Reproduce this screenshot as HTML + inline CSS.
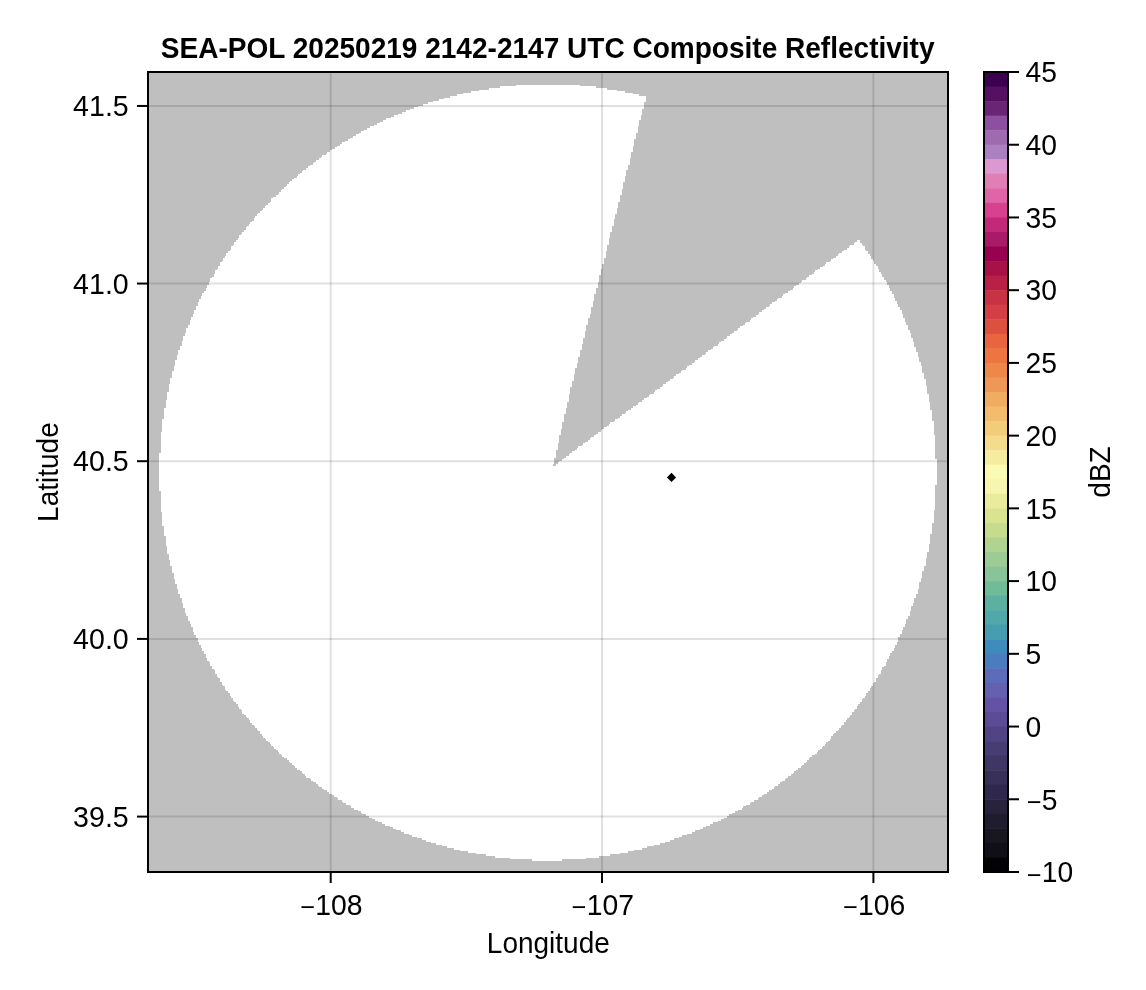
<!DOCTYPE html>
<html lang="en"><head><meta charset="utf-8"><title>SEA-POL Composite Reflectivity</title>
<style>html,body{margin:0;padding:0;background:#fff;}body{width:1146px;height:990px;overflow:hidden;}svg{display:block;}text{font-family:"Liberation Sans",sans-serif;fill:#000;}</style></head><body>
<svg width="1146" height="990" viewBox="0 0 1146 990">
<rect x="0" y="0" width="1146" height="990" fill="#ffffff"/>
<rect x="148" y="72" width="800" height="800" fill="#bfbfbf"/>
<path d="M516 84.8H580V86.4H516ZM500 86.4H596V88H500ZM488.8 88H607.2V89.6H488.8ZM479.2 89.6H616.8V91.2H479.2ZM471.2 91.2H624.8V92.8H471.2ZM463.2 92.8H632.8V94.4H463.2ZM456.8 94.4H639.2V96H456.8ZM450.4 96H645.6V97.6H450.4ZM444 97.6H645.6V99.2H444ZM439.2 99.2H645.6V100.8H439.2ZM432.8 100.8H645.6V102.4H432.8ZM428 102.4H644V104H428ZM423.2 104H644V105.6H423.2ZM418.4 105.6H644V107.2H418.4ZM413.6 107.2H644V108.8H413.6ZM410.4 108.8H642.4V110.4H410.4ZM405.6 110.4H642.4V112H405.6ZM402.4 112H642.4V113.6H402.4ZM397.6 113.6H642.4V115.2H397.6ZM394.4 115.2H640.8V116.8H394.4ZM391.2 116.8H640.8V118.4H391.2ZM386.4 118.4H640.8V120H386.4ZM383.2 120H639.2V121.6H383.2ZM380 121.6H639.2V123.2H380ZM376.8 123.2H639.2V124.8H376.8ZM373.6 124.8H639.2V126.4H373.6ZM370.4 126.4H637.6V128H370.4ZM367.2 128H637.6V129.6H367.2ZM364 129.6H637.6V131.2H364ZM360.8 131.2H637.6V132.8H360.8ZM359.2 132.8H636V134.4H359.2ZM356 134.4H636V136H356ZM352.8 136H636V137.6H352.8ZM349.6 137.6H636V139.2H349.6ZM348 139.2H634.4V140.8H348ZM344.8 140.8H634.4V142.4H344.8ZM341.6 142.4H634.4V144H341.6ZM340 144H634.4V145.6H340ZM336.8 145.6H632.8V147.2H336.8ZM335.2 147.2H632.8V148.8H335.2ZM332 148.8H632.8V150.4H332ZM330.4 150.4H632.8V152H330.4ZM327.2 152H631.2V153.6H327.2ZM325.6 153.6H631.2V155.2H325.6ZM322.4 155.2H631.2V156.8H322.4ZM320.8 156.8H631.2V158.4H320.8ZM319.2 158.4H629.6V160H319.2ZM316 160H629.6V161.6H316ZM314.4 161.6H629.6V163.2H314.4ZM312.8 163.2H629.6V164.8H312.8ZM309.6 164.8H628V166.4H309.6ZM308 166.4H628V168H308ZM306.4 168H628V169.6H306.4ZM303.2 169.6H626.4V171.2H303.2ZM301.6 171.2H626.4V172.8H301.6ZM300 172.8H626.4V174.4H300ZM298.4 174.4H626.4V176H298.4ZM296.8 176H624.8V177.6H296.8ZM293.6 177.6H624.8V179.2H293.6ZM292 179.2H624.8V180.8H292ZM290.4 180.8H624.8V182.4H290.4ZM288.8 182.4H623.2V184H288.8ZM287.2 184H623.2V185.6H287.2ZM285.6 185.6H623.2V187.2H285.6ZM284 187.2H623.2V188.8H284ZM282.4 188.8H621.6V190.4H282.4ZM280.8 190.4H621.6V192H280.8ZM279.2 192H621.6V193.6H279.2ZM277.6 193.6H621.6V195.2H277.6ZM276 195.2H620V196.8H276ZM272.8 196.8H620V198.4H272.8ZM271.2 198.4H620V200H271.2ZM271.2 200H620V201.6H271.2ZM269.6 201.6H618.4V203.2H269.6ZM268 203.2H618.4V204.8H268ZM266.4 204.8H618.4V206.4H266.4ZM264.8 206.4H618.4V208H264.8ZM263.2 208H616.8V209.6H263.2ZM261.6 209.6H616.8V211.2H261.6ZM260 211.2H616.8V212.8H260ZM258.4 212.8H616.8V214.4H258.4ZM256.8 214.4H615.2V216H256.8ZM255.2 216H615.2V217.6H255.2ZM253.6 217.6H615.2V219.2H253.6ZM253.6 219.2H613.6V220.8H253.6ZM252 220.8H613.6V222.4H252ZM250.4 222.4H613.6V224H250.4ZM248.8 224H613.6V225.6H248.8ZM247.2 225.6H612V227.2H247.2ZM245.6 227.2H612V228.8H245.6ZM245.6 228.8H612V230.4H245.6ZM244 230.4H612V232H244ZM242.4 232H610.4V233.6H242.4ZM240.8 233.6H610.4V235.2H240.8ZM239.2 235.2H610.4V236.8H239.2ZM239.2 236.8H610.4V238.4H239.2ZM237.6 238.4H608.8V240H237.6ZM236 240H608.8V241.6H236ZM856.8 240H860V241.6H856.8ZM234.4 241.6H608.8V243.2H234.4ZM855.2 241.6H860V243.2H855.2ZM234.4 243.2H608.8V244.8H234.4ZM853.6 243.2H861.6V244.8H853.6ZM232.8 244.8H607.2V246.4H232.8ZM850.4 244.8H863.2V246.4H850.4ZM231.2 246.4H607.2V248H231.2ZM848.8 246.4H864.8V248H848.8ZM231.2 248H607.2V249.6H231.2ZM847.2 248H864.8V249.6H847.2ZM229.6 249.6H607.2V251.2H229.6ZM844 249.6H866.4V251.2H844ZM228 251.2H605.6V252.8H228ZM842.4 251.2H868V252.8H842.4ZM226.4 252.8H605.6V254.4H226.4ZM839.2 252.8H868V254.4H839.2ZM226.4 254.4H605.6V256H226.4ZM837.6 254.4H869.6V256H837.6ZM224.8 256H605.6V257.6H224.8ZM836 256H871.2V257.6H836ZM223.2 257.6H604V259.2H223.2ZM832.8 257.6H871.2V259.2H832.8ZM223.2 259.2H604V260.8H223.2ZM831.2 259.2H872.8V260.8H831.2ZM221.6 260.8H604V262.4H221.6ZM829.6 260.8H874.4V262.4H829.6ZM220 262.4H604V264H220ZM826.4 262.4H874.4V264H826.4ZM220 264H602.4V265.6H220ZM824.8 264H876V265.6H824.8ZM218.4 265.6H602.4V267.2H218.4ZM823.2 265.6H877.6V267.2H823.2ZM218.4 267.2H602.4V268.8H218.4ZM820 267.2H877.6V268.8H820ZM216.8 268.8H600.8V270.4H216.8ZM818.4 268.8H879.2V270.4H818.4ZM215.2 270.4H600.8V272H215.2ZM815.2 270.4H879.2V272H815.2ZM215.2 272H600.8V273.6H215.2ZM813.6 272H880.8V273.6H813.6ZM213.6 273.6H600.8V275.2H213.6ZM812 273.6H882.4V275.2H812ZM213.6 275.2H599.2V276.8H213.6ZM808.8 275.2H882.4V276.8H808.8ZM212 276.8H599.2V278.4H212ZM807.2 276.8H884V278.4H807.2ZM210.4 278.4H599.2V280H210.4ZM805.6 278.4H884V280H805.6ZM210.4 280H599.2V281.6H210.4ZM802.4 280H885.6V281.6H802.4ZM208.8 281.6H597.6V283.2H208.8ZM800.8 281.6H887.2V283.2H800.8ZM208.8 283.2H597.6V284.8H208.8ZM799.2 283.2H887.2V284.8H799.2ZM207.2 284.8H597.6V286.4H207.2ZM796 284.8H888.8V286.4H796ZM207.2 286.4H597.6V288H207.2ZM794.4 286.4H888.8V288H794.4ZM205.6 288H596V289.6H205.6ZM792.8 288H890.4V289.6H792.8ZM205.6 289.6H596V291.2H205.6ZM789.6 289.6H890.4V291.2H789.6ZM204 291.2H596V292.8H204ZM788 291.2H892V292.8H788ZM202.4 292.8H596V294.4H202.4ZM784.8 292.8H892V294.4H784.8ZM202.4 294.4H594.4V296H202.4ZM783.2 294.4H893.6V296H783.2ZM200.8 296H594.4V297.6H200.8ZM781.6 296H893.6V297.6H781.6ZM200.8 297.6H594.4V299.2H200.8ZM778.4 297.6H895.2V299.2H778.4ZM199.2 299.2H594.4V300.8H199.2ZM776.8 299.2H895.2V300.8H776.8ZM199.2 300.8H592.8V302.4H199.2ZM775.2 300.8H896.8V302.4H775.2ZM197.6 302.4H592.8V304H197.6ZM772 302.4H896.8V304H772ZM197.6 304H592.8V305.6H197.6ZM770.4 304H898.4V305.6H770.4ZM196 305.6H592.8V307.2H196ZM768.8 305.6H898.4V307.2H768.8ZM196 307.2H591.2V308.8H196ZM765.6 307.2H900V308.8H765.6ZM196 308.8H591.2V310.4H196ZM764 308.8H900V310.4H764ZM194.4 310.4H591.2V312H194.4ZM762.4 310.4H901.6V312H762.4ZM194.4 312H591.2V313.6H194.4ZM759.2 312H901.6V313.6H759.2ZM192.8 313.6H589.6V315.2H192.8ZM757.6 313.6H903.2V315.2H757.6ZM192.8 315.2H589.6V316.8H192.8ZM756 315.2H903.2V316.8H756ZM191.2 316.8H589.6V318.4H191.2ZM752.8 316.8H903.2V318.4H752.8ZM191.2 318.4H588V320H191.2ZM751.2 318.4H904.8V320H751.2ZM189.6 320H588V321.6H189.6ZM749.6 320H904.8V321.6H749.6ZM189.6 321.6H588V323.2H189.6ZM746.4 321.6H906.4V323.2H746.4ZM189.6 323.2H588V324.8H189.6ZM744.8 323.2H906.4V324.8H744.8ZM188 324.8H586.4V326.4H188ZM743.2 324.8H908V326.4H743.2ZM188 326.4H586.4V328H188ZM740 326.4H908V328H740ZM186.4 328H586.4V329.6H186.4ZM738.4 328H908V329.6H738.4ZM186.4 329.6H586.4V331.2H186.4ZM736.8 329.6H909.6V331.2H736.8ZM186.4 331.2H584.8V332.8H186.4ZM733.6 331.2H909.6V332.8H733.6ZM184.8 332.8H584.8V334.4H184.8ZM732 332.8H911.2V334.4H732ZM184.8 334.4H584.8V336H184.8ZM730.4 334.4H911.2V336H730.4ZM183.2 336H584.8V337.6H183.2ZM727.2 336H911.2V337.6H727.2ZM183.2 337.6H583.2V339.2H183.2ZM725.6 337.6H912.8V339.2H725.6ZM183.2 339.2H583.2V340.8H183.2ZM724 339.2H912.8V340.8H724ZM181.6 340.8H583.2V342.4H181.6ZM720.8 340.8H912.8V342.4H720.8ZM181.6 342.4H583.2V344H181.6ZM719.2 342.4H914.4V344H719.2ZM181.6 344H581.6V345.6H181.6ZM717.6 344H914.4V345.6H717.6ZM180 345.6H581.6V347.2H180ZM714.4 345.6H914.4V347.2H714.4ZM180 347.2H581.6V348.8H180ZM712.8 347.2H916V348.8H712.8ZM180 348.8H581.6V350.4H180ZM711.2 348.8H916V350.4H711.2ZM178.4 350.4H580V352H178.4ZM708 350.4H916V352H708ZM178.4 352H580V353.6H178.4ZM706.4 352H917.6V353.6H706.4ZM178.4 353.6H580V355.2H178.4ZM704.8 353.6H917.6V355.2H704.8ZM176.8 355.2H580V356.8H176.8ZM701.6 355.2H917.6V356.8H701.6ZM176.8 356.8H578.4V358.4H176.8ZM700 356.8H919.2V358.4H700ZM176.8 358.4H578.4V360H176.8ZM698.4 358.4H919.2V360H698.4ZM175.2 360H578.4V361.6H175.2ZM695.2 360H919.2V361.6H695.2ZM175.2 361.6H578.4V363.2H175.2ZM693.6 361.6H920.8V363.2H693.6ZM175.2 363.2H576.8V364.8H175.2ZM692 363.2H920.8V364.8H692ZM175.2 364.8H576.8V366.4H175.2ZM688.8 364.8H920.8V366.4H688.8ZM173.6 366.4H576.8V368H173.6ZM687.2 366.4H922.4V368H687.2ZM173.6 368H575.2V369.6H173.6ZM685.6 368H922.4V369.6H685.6ZM173.6 369.6H575.2V371.2H173.6ZM682.4 369.6H922.4V371.2H682.4ZM172 371.2H575.2V372.8H172ZM680.8 371.2H922.4V372.8H680.8ZM172 372.8H575.2V374.4H172ZM679.2 372.8H924V374.4H679.2ZM172 374.4H573.6V376H172ZM676 374.4H924V376H676ZM172 376H573.6V377.6H172ZM674.4 376H924V377.6H674.4ZM170.4 377.6H573.6V379.2H170.4ZM672.8 377.6H924V379.2H672.8ZM170.4 379.2H573.6V380.8H170.4ZM669.6 379.2H925.6V380.8H669.6ZM170.4 380.8H572V382.4H170.4ZM668 380.8H925.6V382.4H668ZM170.4 382.4H572V384H170.4ZM666.4 382.4H925.6V384H666.4ZM168.8 384H572V385.6H168.8ZM663.2 384H925.6V385.6H663.2ZM168.8 385.6H572V387.2H168.8ZM661.6 385.6H927.2V387.2H661.6ZM168.8 387.2H570.4V388.8H168.8ZM660 387.2H927.2V388.8H660ZM168.8 388.8H570.4V390.4H168.8ZM656.8 388.8H927.2V390.4H656.8ZM168.8 390.4H570.4V392H168.8ZM655.2 390.4H927.2V392H655.2ZM167.2 392H570.4V393.6H167.2ZM653.6 392H927.2V393.6H653.6ZM167.2 393.6H568.8V395.2H167.2ZM650.4 393.6H928.8V395.2H650.4ZM167.2 395.2H568.8V396.8H167.2ZM648.8 395.2H928.8V396.8H648.8ZM167.2 396.8H568.8V398.4H167.2ZM647.2 396.8H928.8V398.4H647.2ZM167.2 398.4H568.8V400H167.2ZM644 398.4H928.8V400H644ZM165.6 400H568.8V401.6H165.6ZM642.4 400H928.8V401.6H642.4ZM165.6 401.6H567.2V403.2H165.6ZM639.2 401.6H930.4V403.2H639.2ZM165.6 403.2H567.2V404.8H165.6ZM637.6 403.2H930.4V404.8H637.6ZM165.6 404.8H567.2V406.4H165.6ZM636 404.8H930.4V406.4H636ZM165.6 406.4H567.2V408H165.6ZM632.8 406.4H930.4V408H632.8ZM164 408H565.6V409.6H164ZM631.2 408H930.4V409.6H631.2ZM164 409.6H565.6V411.2H164ZM628 409.6H932V411.2H628ZM164 411.2H565.6V412.8H164ZM626.4 411.2H932V412.8H626.4ZM164 412.8H565.6V414.4H164ZM624.8 412.8H932V414.4H624.8ZM164 414.4H564V416H164ZM621.6 414.4H932V416H621.6ZM164 416H564V417.6H164ZM620 416H932V417.6H620ZM164 417.6H564V419.2H164ZM618.4 417.6H932V419.2H618.4ZM162.4 419.2H564V420.8H162.4ZM615.2 419.2H932V420.8H615.2ZM162.4 420.8H564V422.4H162.4ZM613.6 420.8H933.6V422.4H613.6ZM162.4 422.4H562.4V424H162.4ZM610.4 422.4H933.6V424H610.4ZM162.4 424H562.4V425.6H162.4ZM608.8 424H933.6V425.6H608.8ZM162.4 425.6H562.4V427.2H162.4ZM607.2 425.6H933.6V427.2H607.2ZM162.4 427.2H562.4V428.8H162.4ZM604 427.2H933.6V428.8H604ZM162.4 428.8H560.8V430.4H162.4ZM602.4 428.8H933.6V430.4H602.4ZM162.4 430.4H560.8V432H162.4ZM600.8 430.4H933.6V432H600.8ZM160.8 432H560.8V433.6H160.8ZM597.6 432H933.6V433.6H597.6ZM160.8 433.6H560.8V435.2H160.8ZM596 433.6H933.6V435.2H596ZM160.8 435.2H559.2V436.8H160.8ZM594.4 435.2H935.2V436.8H594.4ZM160.8 436.8H559.2V438.4H160.8ZM591.2 436.8H935.2V438.4H591.2ZM160.8 438.4H559.2V440H160.8ZM589.6 438.4H935.2V440H589.6ZM160.8 440H559.2V441.6H160.8ZM588 440H935.2V441.6H588ZM160.8 441.6H559.2V443.2H160.8ZM584.8 441.6H935.2V443.2H584.8ZM160.8 443.2H557.6V444.8H160.8ZM583.2 443.2H935.2V444.8H583.2ZM160.8 444.8H557.6V446.4H160.8ZM581.6 444.8H935.2V446.4H581.6ZM160.8 446.4H557.6V448H160.8ZM578.4 446.4H935.2V448H578.4ZM160.8 448H557.6V449.6H160.8ZM576.8 448H935.2V449.6H576.8ZM160.8 449.6H556V451.2H160.8ZM575.2 449.6H935.2V451.2H575.2ZM160.8 451.2H556V452.8H160.8ZM572 451.2H935.2V452.8H572ZM159.2 452.8H556V454.4H159.2ZM570.4 452.8H935.2V454.4H570.4ZM159.2 454.4H556V456H159.2ZM568.8 454.4H935.2V456H568.8ZM159.2 456H556V457.6H159.2ZM565.6 456H935.2V457.6H565.6ZM159.2 457.6H554.4V459.2H159.2ZM564 457.6H935.2V459.2H564ZM159.2 459.2H554.4V460.8H159.2ZM562.4 459.2H936.8V460.8H562.4ZM159.2 460.8H554.4V462.4H159.2ZM559.2 460.8H936.8V462.4H559.2ZM159.2 462.4H554.4V464H159.2ZM557.6 462.4H936.8V464H557.6ZM159.2 464H552.8V465.6H159.2ZM556 464H936.8V465.6H556ZM159.2 465.6H936.8V467.2H159.2ZM159.2 467.2H936.8V468.8H159.2ZM159.2 468.8H936.8V470.4H159.2ZM159.2 470.4H936.8V472H159.2ZM159.2 472H936.8V473.6H159.2ZM159.2 473.6H936.8V475.2H159.2ZM159.2 475.2H936.8V476.8H159.2ZM159.2 476.8H936.8V478.4H159.2ZM159.2 478.4H936.8V480H159.2ZM159.2 480H936.8V481.6H159.2ZM159.2 481.6H936.8V483.2H159.2ZM159.2 483.2H936.8V484.8H159.2ZM159.2 484.8H935.2V486.4H159.2ZM159.2 486.4H935.2V488H159.2ZM159.2 488H935.2V489.6H159.2ZM159.2 489.6H935.2V491.2H159.2ZM160.8 491.2H935.2V492.8H160.8ZM160.8 492.8H935.2V494.4H160.8ZM160.8 494.4H935.2V496H160.8ZM160.8 496H935.2V497.6H160.8ZM160.8 497.6H935.2V499.2H160.8ZM160.8 499.2H935.2V500.8H160.8ZM160.8 500.8H935.2V502.4H160.8ZM160.8 502.4H935.2V504H160.8ZM160.8 504H935.2V505.6H160.8ZM160.8 505.6H935.2V507.2H160.8ZM160.8 507.2H935.2V508.8H160.8ZM160.8 508.8H935.2V510.4H160.8ZM160.8 510.4H933.6V512H160.8ZM162.4 512H933.6V513.6H162.4ZM162.4 513.6H933.6V515.2H162.4ZM162.4 515.2H933.6V516.8H162.4ZM162.4 516.8H933.6V518.4H162.4ZM162.4 518.4H933.6V520H162.4ZM162.4 520H933.6V521.6H162.4ZM162.4 521.6H933.6V523.2H162.4ZM162.4 523.2H932V524.8H162.4ZM162.4 524.8H932V526.4H162.4ZM164 526.4H932V528H164ZM164 528H932V529.6H164ZM164 529.6H932V531.2H164ZM164 531.2H932V532.8H164ZM164 532.8H932V534.4H164ZM164 534.4H930.4V536H164ZM165.6 536H930.4V537.6H165.6ZM165.6 537.6H930.4V539.2H165.6ZM165.6 539.2H930.4V540.8H165.6ZM165.6 540.8H930.4V542.4H165.6ZM165.6 542.4H930.4V544H165.6ZM165.6 544H928.8V545.6H165.6ZM167.2 545.6H928.8V547.2H167.2ZM167.2 547.2H928.8V548.8H167.2ZM167.2 548.8H928.8V550.4H167.2ZM167.2 550.4H928.8V552H167.2ZM167.2 552H927.2V553.6H167.2ZM168.8 553.6H927.2V555.2H168.8ZM168.8 555.2H927.2V556.8H168.8ZM168.8 556.8H927.2V558.4H168.8ZM168.8 558.4H925.6V560H168.8ZM170.4 560H925.6V561.6H170.4ZM170.4 561.6H925.6V563.2H170.4ZM170.4 563.2H925.6V564.8H170.4ZM170.4 564.8H925.6V566.4H170.4ZM172 566.4H924V568H172ZM172 568H924V569.6H172ZM172 569.6H924V571.2H172ZM172 571.2H922.4V572.8H172ZM173.6 572.8H922.4V574.4H173.6ZM173.6 574.4H922.4V576H173.6ZM173.6 576H922.4V577.6H173.6ZM173.6 577.6H920.8V579.2H173.6ZM175.2 579.2H920.8V580.8H175.2ZM175.2 580.8H920.8V582.4H175.2ZM175.2 582.4H919.2V584H175.2ZM176.8 584H919.2V585.6H176.8ZM176.8 585.6H919.2V587.2H176.8ZM176.8 587.2H919.2V588.8H176.8ZM178.4 588.8H917.6V590.4H178.4ZM178.4 590.4H917.6V592H178.4ZM178.4 592H917.6V593.6H178.4ZM180 593.6H916V595.2H180ZM180 595.2H916V596.8H180ZM180 596.8H916V598.4H180ZM181.6 598.4H914.4V600H181.6ZM181.6 600H914.4V601.6H181.6ZM181.6 601.6H914.4V603.2H181.6ZM183.2 603.2H912.8V604.8H183.2ZM183.2 604.8H912.8V606.4H183.2ZM183.2 606.4H911.2V608H183.2ZM184.8 608H911.2V609.6H184.8ZM184.8 609.6H911.2V611.2H184.8ZM184.8 611.2H909.6V612.8H184.8ZM186.4 612.8H909.6V614.4H186.4ZM186.4 614.4H909.6V616H186.4ZM188 616H908V617.6H188ZM188 617.6H908V619.2H188ZM188 619.2H906.4V620.8H188ZM189.6 620.8H906.4V622.4H189.6ZM189.6 622.4H906.4V624H189.6ZM191.2 624H904.8V625.6H191.2ZM191.2 625.6H904.8V627.2H191.2ZM192.8 627.2H903.2V628.8H192.8ZM192.8 628.8H903.2V630.4H192.8ZM192.8 630.4H901.6V632H192.8ZM194.4 632H901.6V633.6H194.4ZM194.4 633.6H900V635.2H194.4ZM196 635.2H900V636.8H196ZM196 636.8H898.4V638.4H196ZM197.6 638.4H898.4V640H197.6ZM197.6 640H898.4V641.6H197.6ZM199.2 641.6H896.8V643.2H199.2ZM199.2 643.2H896.8V644.8H199.2ZM200.8 644.8H895.2V646.4H200.8ZM200.8 646.4H895.2V648H200.8ZM202.4 648H893.6V649.6H202.4ZM202.4 649.6H893.6V651.2H202.4ZM204 651.2H892V652.8H204ZM204 652.8H890.4V654.4H204ZM205.6 654.4H890.4V656H205.6ZM205.6 656H888.8V657.6H205.6ZM207.2 657.6H888.8V659.2H207.2ZM207.2 659.2H887.2V660.8H207.2ZM208.8 660.8H887.2V662.4H208.8ZM210.4 662.4H885.6V664H210.4ZM210.4 664H885.6V665.6H210.4ZM212 665.6H884V667.2H212ZM212 667.2H882.4V668.8H212ZM213.6 668.8H882.4V670.4H213.6ZM215.2 670.4H880.8V672H215.2ZM215.2 672H880.8V673.6H215.2ZM216.8 673.6H879.2V675.2H216.8ZM216.8 675.2H877.6V676.8H216.8ZM218.4 676.8H877.6V678.4H218.4ZM220 678.4H876V680H220ZM220 680H876V681.6H220ZM221.6 681.6H874.4V683.2H221.6ZM221.6 683.2H872.8V684.8H221.6ZM223.2 684.8H872.8V686.4H223.2ZM224.8 686.4H871.2V688H224.8ZM224.8 688H869.6V689.6H224.8ZM226.4 689.6H869.6V691.2H226.4ZM228 691.2H868V692.8H228ZM229.6 692.8H866.4V694.4H229.6ZM229.6 694.4H866.4V696H229.6ZM231.2 696H864.8V697.6H231.2ZM232.8 697.6H863.2V699.2H232.8ZM232.8 699.2H861.6V700.8H232.8ZM234.4 700.8H861.6V702.4H234.4ZM236 702.4H860V704H236ZM237.6 704H858.4V705.6H237.6ZM237.6 705.6H856.8V707.2H237.6ZM239.2 707.2H856.8V708.8H239.2ZM240.8 708.8H855.2V710.4H240.8ZM242.4 710.4H853.6V712H242.4ZM242.4 712H852V713.6H242.4ZM244 713.6H852V715.2H244ZM245.6 715.2H850.4V716.8H245.6ZM247.2 716.8H848.8V718.4H247.2ZM248.8 718.4H847.2V720H248.8ZM250.4 720H845.6V721.6H250.4ZM250.4 721.6H844V723.2H250.4ZM252 723.2H844V724.8H252ZM253.6 724.8H842.4V726.4H253.6ZM255.2 726.4H840.8V728H255.2ZM256.8 728H839.2V729.6H256.8ZM258.4 729.6H837.6V731.2H258.4ZM260 731.2H836V732.8H260ZM260 732.8H834.4V734.4H260ZM261.6 734.4H832.8V736H261.6ZM263.2 736H831.2V737.6H263.2ZM264.8 737.6H831.2V739.2H264.8ZM266.4 739.2H829.6V740.8H266.4ZM268 740.8H828V742.4H268ZM269.6 742.4H826.4V744H269.6ZM271.2 744H824.8V745.6H271.2ZM272.8 745.6H823.2V747.2H272.8ZM274.4 747.2H821.6V748.8H274.4ZM276 748.8H820V750.4H276ZM277.6 750.4H818.4V752H277.6ZM279.2 752H816.8V753.6H279.2ZM280.8 753.6H815.2V755.2H280.8ZM282.4 755.2H812V756.8H282.4ZM284 756.8H810.4V758.4H284ZM287.2 758.4H808.8V760H287.2ZM288.8 760H807.2V761.6H288.8ZM290.4 761.6H805.6V763.2H290.4ZM292 763.2H804V764.8H292ZM293.6 764.8H802.4V766.4H293.6ZM295.2 766.4H800.8V768H295.2ZM296.8 768H797.6V769.6H296.8ZM300 769.6H796V771.2H300ZM301.6 771.2H794.4V772.8H301.6ZM303.2 772.8H792.8V774.4H303.2ZM304.8 774.4H791.2V776H304.8ZM306.4 776H788V777.6H306.4ZM309.6 777.6H786.4V779.2H309.6ZM311.2 779.2H784.8V780.8H311.2ZM312.8 780.8H781.6V782.4H312.8ZM316 782.4H780V784H316ZM317.6 784H778.4V785.6H317.6ZM319.2 785.6H775.2V787.2H319.2ZM322.4 787.2H773.6V788.8H322.4ZM324 788.8H772V790.4H324ZM327.2 790.4H768.8V792H327.2ZM328.8 792H767.2V793.6H328.8ZM332 793.6H764V795.2H332ZM333.6 795.2H762.4V796.8H333.6ZM336.8 796.8H759.2V798.4H336.8ZM338.4 798.4H757.6V800H338.4ZM341.6 800H754.4V801.6H341.6ZM343.2 801.6H751.2V803.2H343.2ZM346.4 803.2H749.6V804.8H346.4ZM349.6 804.8H746.4V806.4H349.6ZM351.2 806.4H743.2V808H351.2ZM354.4 808H741.6V809.6H354.4ZM357.6 809.6H738.4V811.2H357.6ZM360.8 811.2H735.2V812.8H360.8ZM362.4 812.8H732V814.4H362.4ZM365.6 814.4H728.8V816H365.6ZM368.8 816H727.2V817.6H368.8ZM372 817.6H724V819.2H372ZM375.2 819.2H720.8V820.8H375.2ZM378.4 820.8H717.6V822.4H378.4ZM381.6 822.4H712.8V824H381.6ZM384.8 824H709.6V825.6H384.8ZM389.6 825.6H706.4V827.2H389.6ZM392.8 827.2H703.2V828.8H392.8ZM396 828.8H700V830.4H396ZM400.8 830.4H695.2V832H400.8ZM404 832H692V833.6H404ZM408.8 833.6H687.2V835.2H408.8ZM412 835.2H682.4V836.8H412ZM416.8 836.8H679.2V838.4H416.8ZM421.6 838.4H674.4V840H421.6ZM426.4 840H669.6V841.6H426.4ZM431.2 841.6H664.8V843.2H431.2ZM436 843.2H660V844.8H436ZM442.4 844.8H653.6V846.4H442.4ZM447.2 846.4H647.2V848H447.2ZM453.6 848H642.4V849.6H453.6ZM460 849.6H634.4V851.2H460ZM468 851.2H628V852.8H468ZM476 852.8H620V854.4H476ZM485.6 854.4H610.4V856H485.6ZM495.2 856H599.2V857.6H495.2ZM509.6 857.6H586.4V859.2H509.6ZM532 859.2H562.4V860.8H532Z" fill="#ffffff" shape-rendering="crispEdges"/>
<line x1="330.70" y1="72" x2="330.70" y2="872" stroke="#000" stroke-opacity="0.12" stroke-width="2"/>
<line x1="602.00" y1="72" x2="602.00" y2="872" stroke="#000" stroke-opacity="0.12" stroke-width="2"/>
<line x1="873.40" y1="72" x2="873.40" y2="872" stroke="#000" stroke-opacity="0.12" stroke-width="2"/>
<line x1="148" y1="105.95" x2="948" y2="105.95" stroke="#000" stroke-opacity="0.12" stroke-width="2"/>
<line x1="148" y1="283.55" x2="948" y2="283.55" stroke="#000" stroke-opacity="0.12" stroke-width="2"/>
<line x1="148" y1="461.20" x2="948" y2="461.20" stroke="#000" stroke-opacity="0.12" stroke-width="2"/>
<line x1="148" y1="638.90" x2="948" y2="638.90" stroke="#000" stroke-opacity="0.12" stroke-width="2"/>
<line x1="148" y1="816.60" x2="948" y2="816.60" stroke="#000" stroke-opacity="0.12" stroke-width="2"/>
<polygon points="671.5,472.8 676.1,477.4 671.5,482.0 666.9,477.4" fill="#000"/>
<rect x="148" y="72" width="800" height="800" fill="none" stroke="#000" stroke-width="2"/>
<line x1="330.70" y1="873" x2="330.70" y2="883" stroke="#000" stroke-width="2"/>
<text transform="translate(330.30,914.70) scale(1.0120,1.045)" font-size="28" text-anchor="middle"><tspan font-size="25" dx="1.14" dy="1.67">−</tspan><tspan dx="0.3" dy="-1.67">108</tspan></text>
<line x1="602.00" y1="873" x2="602.00" y2="883" stroke="#000" stroke-width="2"/>
<text transform="translate(601.60,914.70) scale(1.0120,1.045)" font-size="28" text-anchor="middle"><tspan font-size="25" dx="1.14" dy="1.67">−</tspan><tspan dx="0.3" dy="-1.67">107</tspan></text>
<line x1="873.40" y1="873" x2="873.40" y2="883" stroke="#000" stroke-width="2"/>
<text transform="translate(873.00,914.70) scale(1.0120,1.045)" font-size="28" text-anchor="middle"><tspan font-size="25" dx="1.14" dy="1.67">−</tspan><tspan dx="0.3" dy="-1.67">106</tspan></text>
<line x1="137" y1="105.95" x2="147" y2="105.95" stroke="#000" stroke-width="2"/>
<text transform="translate(128.70,116.15) scale(1.0200,1.045)" font-size="28" text-anchor="end">41.5</text>
<line x1="137" y1="283.55" x2="147" y2="283.55" stroke="#000" stroke-width="2"/>
<text transform="translate(128.70,293.75) scale(1.0200,1.045)" font-size="28" text-anchor="end">41.0</text>
<line x1="137" y1="461.20" x2="147" y2="461.20" stroke="#000" stroke-width="2"/>
<text transform="translate(128.70,471.40) scale(1.0200,1.045)" font-size="28" text-anchor="end">40.5</text>
<line x1="137" y1="638.90" x2="147" y2="638.90" stroke="#000" stroke-width="2"/>
<text transform="translate(128.70,649.10) scale(1.0200,1.045)" font-size="28" text-anchor="end">40.0</text>
<line x1="137" y1="816.60" x2="147" y2="816.60" stroke="#000" stroke-width="2"/>
<text transform="translate(128.70,826.80) scale(1.0200,1.045)" font-size="28" text-anchor="end">39.5</text>
<text transform="translate(547.70,57.90) scale(1.0016,1.045)" font-size="28" font-weight="bold" text-anchor="middle">SEA-POL 20250219 2142-2147 UTC Composite Reflectivity</text>
<text transform="translate(548.30,953.30) scale(1.0000,1.045)" font-size="28" text-anchor="middle">Longitude</text>
<text transform="translate(58.00,472.10) rotate(-90) scale(1.0000,1.045)" font-size="28" text-anchor="middle">Latitude</text>
<text transform="translate(1110.20,472.00) rotate(-90) scale(1.0000,1.045)" font-size="28" text-anchor="middle">dBZ</text>
<rect x="984" y="72.000" width="24" height="15.045" fill="rgb(61,0,80)"/>
<rect x="984" y="86.545" width="24" height="15.045" fill="rgb(85,16,97)"/>
<rect x="984" y="101.091" width="24" height="15.045" fill="rgb(106,37,117)"/>
<rect x="984" y="115.636" width="24" height="15.045" fill="rgb(141,79,160)"/>
<rect x="984" y="130.182" width="24" height="15.045" fill="rgb(160,106,176)"/>
<rect x="984" y="144.727" width="24" height="15.045" fill="rgb(171,128,192)"/>
<rect x="984" y="159.273" width="24" height="15.045" fill="rgb(220,152,208)"/>
<rect x="984" y="173.818" width="24" height="15.045" fill="rgb(224,127,181)"/>
<rect x="984" y="188.364" width="24" height="15.045" fill="rgb(224,101,168)"/>
<rect x="984" y="202.909" width="24" height="15.045" fill="rgb(216,64,144)"/>
<rect x="984" y="217.455" width="24" height="15.045" fill="rgb(196,40,120)"/>
<rect x="984" y="232.000" width="24" height="15.045" fill="rgb(170,26,104)"/>
<rect x="984" y="246.545" width="24" height="15.045" fill="rgb(152,0,80)"/>
<rect x="984" y="261.091" width="24" height="15.045" fill="rgb(168,16,72)"/>
<rect x="984" y="275.636" width="24" height="15.045" fill="rgb(184,32,72)"/>
<rect x="984" y="290.182" width="24" height="15.045" fill="rgb(200,50,69)"/>
<rect x="984" y="304.727" width="24" height="15.045" fill="rgb(210,64,69)"/>
<rect x="984" y="319.273" width="24" height="15.045" fill="rgb(220,80,64)"/>
<rect x="984" y="333.818" width="24" height="15.045" fill="rgb(232,101,64)"/>
<rect x="984" y="348.364" width="24" height="15.045" fill="rgb(236,117,64)"/>
<rect x="984" y="362.909" width="24" height="15.045" fill="rgb(238,136,72)"/>
<rect x="984" y="377.455" width="24" height="15.045" fill="rgb(238,152,88)"/>
<rect x="984" y="392.000" width="24" height="15.045" fill="rgb(240,172,96)"/>
<rect x="984" y="406.545" width="24" height="15.045" fill="rgb(242,188,108)"/>
<rect x="984" y="421.091" width="24" height="15.045" fill="rgb(242,204,120)"/>
<rect x="984" y="435.636" width="24" height="15.045" fill="rgb(244,220,140)"/>
<rect x="984" y="450.182" width="24" height="15.045" fill="rgb(246,236,160)"/>
<rect x="984" y="464.727" width="24" height="15.045" fill="rgb(251,250,180)"/>
<rect x="984" y="479.273" width="24" height="15.045" fill="rgb(246,246,176)"/>
<rect x="984" y="493.818" width="24" height="15.045" fill="rgb(232,236,156)"/>
<rect x="984" y="508.364" width="24" height="15.045" fill="rgb(216,228,144)"/>
<rect x="984" y="522.909" width="24" height="15.045" fill="rgb(198,220,140)"/>
<rect x="984" y="537.455" width="24" height="15.045" fill="rgb(176,212,144)"/>
<rect x="984" y="552.000" width="24" height="15.045" fill="rgb(156,204,148)"/>
<rect x="984" y="566.545" width="24" height="15.045" fill="rgb(136,196,152)"/>
<rect x="984" y="581.091" width="24" height="15.045" fill="rgb(112,188,152)"/>
<rect x="984" y="595.636" width="24" height="15.045" fill="rgb(92,176,160)"/>
<rect x="984" y="610.182" width="24" height="15.045" fill="rgb(80,168,168)"/>
<rect x="984" y="624.727" width="24" height="15.045" fill="rgb(70,156,176)"/>
<rect x="984" y="639.273" width="24" height="15.045" fill="rgb(62,140,188)"/>
<rect x="984" y="653.818" width="24" height="15.045" fill="rgb(74,124,192)"/>
<rect x="984" y="668.364" width="24" height="15.045" fill="rgb(92,108,186)"/>
<rect x="984" y="682.909" width="24" height="15.045" fill="rgb(102,96,176)"/>
<rect x="984" y="697.455" width="24" height="15.045" fill="rgb(100,82,164)"/>
<rect x="984" y="712.000" width="24" height="15.045" fill="rgb(92,76,152)"/>
<rect x="984" y="726.545" width="24" height="15.045" fill="rgb(80,68,132)"/>
<rect x="984" y="741.091" width="24" height="15.045" fill="rgb(72,60,116)"/>
<rect x="984" y="755.636" width="24" height="15.045" fill="rgb(64,54,102)"/>
<rect x="984" y="770.182" width="24" height="15.045" fill="rgb(56,48,88)"/>
<rect x="984" y="784.727" width="24" height="15.045" fill="rgb(48,40,74)"/>
<rect x="984" y="799.273" width="24" height="15.045" fill="rgb(40,34,60)"/>
<rect x="984" y="813.818" width="24" height="15.045" fill="rgb(32,28,48)"/>
<rect x="984" y="828.364" width="24" height="15.045" fill="rgb(24,22,32)"/>
<rect x="984" y="842.909" width="24" height="15.045" fill="rgb(16,14,22)"/>
<rect x="984" y="857.455" width="24" height="14.545" fill="rgb(2,2,4)"/>
<rect x="984" y="72" width="24" height="800" fill="none" stroke="#000" stroke-width="2"/>
<line x1="1009" y1="872.00" x2="1019" y2="872.00" stroke="#000" stroke-width="2"/>
<text transform="translate(1025.50,882.30) scale(1.0100,1.045)" font-size="28" text-anchor="start"><tspan font-size="25" dx="1.14" dy="1.67">−</tspan><tspan dx="0.3" dy="-1.67">10</tspan></text>
<line x1="1009" y1="799.27" x2="1019" y2="799.27" stroke="#000" stroke-width="2"/>
<text transform="translate(1025.50,809.57) scale(1.0100,1.045)" font-size="28" text-anchor="start"><tspan font-size="25" dx="1.14" dy="1.67">−</tspan><tspan dx="0.3" dy="-1.67">5</tspan></text>
<line x1="1009" y1="726.55" x2="1019" y2="726.55" stroke="#000" stroke-width="2"/>
<text transform="translate(1025.50,736.85) scale(1.0100,1.045)" font-size="28" text-anchor="start">0</text>
<line x1="1009" y1="653.82" x2="1019" y2="653.82" stroke="#000" stroke-width="2"/>
<text transform="translate(1025.50,664.12) scale(1.0100,1.045)" font-size="28" text-anchor="start">5</text>
<line x1="1009" y1="581.09" x2="1019" y2="581.09" stroke="#000" stroke-width="2"/>
<text transform="translate(1025.50,591.39) scale(1.0100,1.045)" font-size="28" text-anchor="start">10</text>
<line x1="1009" y1="508.36" x2="1019" y2="508.36" stroke="#000" stroke-width="2"/>
<text transform="translate(1025.50,518.66) scale(1.0100,1.045)" font-size="28" text-anchor="start">15</text>
<line x1="1009" y1="435.64" x2="1019" y2="435.64" stroke="#000" stroke-width="2"/>
<text transform="translate(1025.50,445.94) scale(1.0100,1.045)" font-size="28" text-anchor="start">20</text>
<line x1="1009" y1="362.91" x2="1019" y2="362.91" stroke="#000" stroke-width="2"/>
<text transform="translate(1025.50,373.21) scale(1.0100,1.045)" font-size="28" text-anchor="start">25</text>
<line x1="1009" y1="290.18" x2="1019" y2="290.18" stroke="#000" stroke-width="2"/>
<text transform="translate(1025.50,300.48) scale(1.0100,1.045)" font-size="28" text-anchor="start">30</text>
<line x1="1009" y1="217.45" x2="1019" y2="217.45" stroke="#000" stroke-width="2"/>
<text transform="translate(1025.50,227.75) scale(1.0100,1.045)" font-size="28" text-anchor="start">35</text>
<line x1="1009" y1="144.73" x2="1019" y2="144.73" stroke="#000" stroke-width="2"/>
<text transform="translate(1025.50,155.03) scale(1.0100,1.045)" font-size="28" text-anchor="start">40</text>
<line x1="1009" y1="72.00" x2="1019" y2="72.00" stroke="#000" stroke-width="2"/>
<text transform="translate(1025.50,82.30) scale(1.0100,1.045)" font-size="28" text-anchor="start">45</text>
</svg></body></html>
